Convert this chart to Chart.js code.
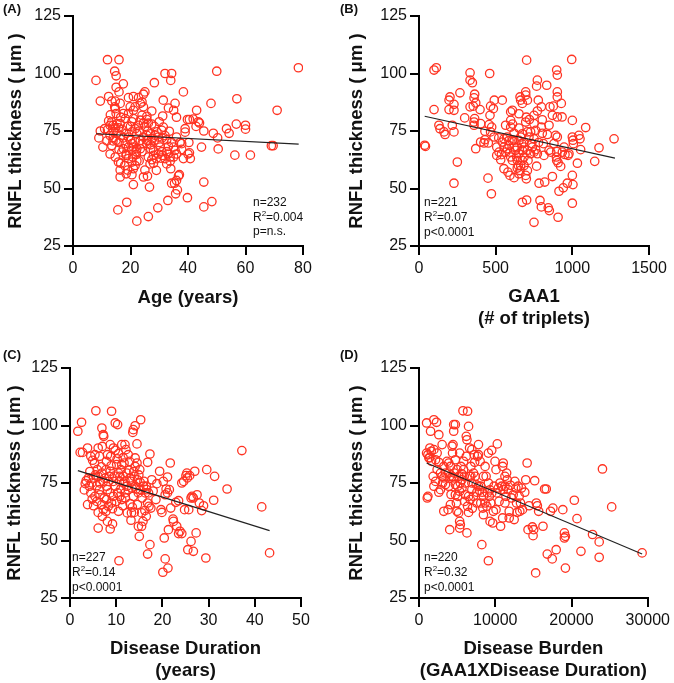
<!DOCTYPE html>
<html><head><meta charset="utf-8">
<script src="https://cdn.jsdelivr.net/npm/chart.js@4.4.1/dist/chart.umd.min.js"></script>
<style>
html,body{margin:0;padding:0;background:#fff;}
#wrap{position:relative;width:674px;height:683px;overflow:hidden;background:#fff;}
canvas{position:absolute;}
</style></head><body>
<div id="wrap">
<canvas id="cA" width="337" height="330" style="left:0;top:0"></canvas>
<canvas id="cB" width="337" height="330" style="left:337px;top:0"></canvas>
<canvas id="cC" width="337" height="353" style="left:0;top:330px"></canvas>
<canvas id="cD" width="337" height="353" style="left:337px;top:330px"></canvas>
</div>
<script>
// ---- Data: [x, RNFL thickness] ----
const agePoints = [[8,97],[9.5,88],[9.5,75],[9,72],[10.4,68],[12,106],[16,106],[14.5,101],[15,99],[15,94],[17.5,95.5],[16,92],[12.4,90],[13.5,88],[14.7,88],[14.5,85.5],[16.4,87],[19.3,89.5],[21,90],[22.8,89.5],[24.5,91],[25,92],[28.3,96],[32,100],[34.3,100],[34,97],[50,101],[78.4,102.5],[31.4,88.4],[35.5,87],[33.2,85],[35,84],[31.2,81.5],[36,81],[38.4,92],[48,87],[57,89],[71,84],[43,84],[40.5,80],[39.8,80],[43.6,79],[41.8,80.2],[42.8,77],[44,78.5],[39,76],[39,74.5],[45.5,75],[48.8,74],[50.3,72],[53.4,76],[54.3,74],[56.8,78],[60,77.5],[60,75.8],[50.5,67.2],[44.7,68],[40.5,65.5],[40,65],[40.8,63],[38.4,63],[56.3,64.5],[61.7,64.5],[69,68.6],[69.6,68.6],[40.3,70],[37.2,70],[35,68],[35.5,66.6],[33.8,63.7],[32,63],[32.6,60.7],[34,58.6],[29,57.9],[45.5,52.8],[34.3,52.3],[35.3,52.3],[36,53.5],[36.7,55.5],[37,56],[35.7,47.7],[36.3,49.4],[39.8,46],[33,44.8],[48.3,44.3],[45.5,42],[29.5,41.6],[26.2,37.8],[22.2,35.8],[18.7,44],[15.6,40.7],[24.5,55],[25.9,55.4],[26.6,50.6],[21,51.7],[16.4,55],[16.4,58],[16.6,61],[15.8,61.5],[18.5,56.4],[20.5,56],[21,58.6],[21.6,60],[20.5,61.5],[19.3,63],[18.5,64.4],[20.8,63.7],[22.2,62],[22,64.8],[22.2,67.3],[23.4,67.3],[24,69.5],[25.7,69.5],[27,67.3],[26.2,63.7],[27.4,62.5],[28,64.4],[29,63],[26.8,60.7],[28,66.6],[29.7,65],[30.3,68],[28.3,71],[29.7,72.4],[32,73],[32.6,71.2],[30.9,75.3],[31.4,76.7],[33.5,74.9],[34.3,70],[28.3,77],[27.4,78],[26.2,78.4],[25,77],[24.5,78.5],[25.7,80],[25.7,81.4],[27.4,83.7],[24.5,85.5],[23.4,87],[24,87.6],[21.6,85.5],[21,84],[19.9,85.5],[19.3,82.6],[17.5,82.6],[18.2,80.4],[16.6,81],[15,82.6],[14.7,84.7],[13.5,79],[12.4,79.4],[12.9,77.5],[14,77.5],[15.3,78.2],[16.4,78.2],[14.7,76.4],[15.8,76.4],[17,75.7],[14,74.7],[15.3,74],[16.6,73],[12.9,73],[13.9,70.7],[11.8,70.7],[13.5,68.7],[12.9,65],[14.7,63.7],[18.5,74],[19.3,72.4],[20.5,74.6],[21.6,76],[22.2,73.8],[22.8,77.5],[20.5,79],[21,80.4],[23.4,79.7],[24,81.8],[18.2,69.5],[19.3,68],[20.5,69.5],[21,68],[21.6,70.3],[20.5,66.6],[17.5,67.3],[17,65.8],[18.5,65],[23.4,70.9],[24.5,72.4],[25.7,73.1],[27,73.8],[27.4,71.6],[25.7,70.9],[28.6,73.1],[29.2,74.6],[30.9,66],[32.6,66],[33.2,68.3],[31.2,64.4],[30.6,63.2],[33.8,61.9],[35,63.7],[36,65],[37.8,67],[36,72.4],[37.8,69.5],[11,76],[13,82],[16,70],[17.5,72],[19,77],[20,71],[22,66],[23,75],[24,66],[26,75],[27,69],[28,61],[30,70],[31,72],[12,75.5],[14,72],[16,67],[18,60],[20,77],[23,62],[25,58],[30,79],[33,65],[19,58],[26,71],[15,71]];
const gaaPoints = [[37,68.8],[42,68.3],[98,101.5],[113,102.5],[98,84.3],[130,77.5],[137,76],[163,74.6],[170,73.5],[196,88.4],[202,89.8],[196,84.3],[228,86.6],[228,84],[217,77.5],[228,74.6],[228,52.3],[250,61.5],[267,91.6],[298,80.7],[333,100.3],[333,97.1],[348,96],[333,85.5],[354,85.8],[359,89.4],[363,91],[370,87.2],[363,80.4],[359,78.9],[359,77.5],[370,67.3],[398,84.3],[402,78.2],[402,70.2],[430,74.9],[430,71.2],[452,69.8],[424,69.8],[461,100],[467,85.8],[463,81.8],[457,77.8],[474,76.7],[467,74.6],[489,72.4],[485,84.7],[491,88.4],[450,54.5],[472,47.7],[543,88.4],[507,68],[522,65.8],[507,64.4],[537,64.7],[533,62.5],[554,58.6],[554,71.6],[576,72.4],[565,77.5],[543,70.2],[587,68.7],[593,65.8],[598,63.7],[598,76.7],[598,79.6],[598,83.3],[609,84],[580,57.1],[593,55.7],[620,54.7],[609,62.2],[620,74],[620,70.9],[630,66.6],[637,63.7],[641,62.2],[648,60],[641,58.9],[652,82.5],[659,89.8],[663,88.4],[674,87],[652,76.3],[663,72.4],[670,69.5],[674,66.6],[652,65.1],[685,70.2],[696,78.9],[696,92],[696,90.6],[702,105.8],[707,88.4],[700,81],[707,66.6],[711,62.2],[696,55.7],[700,54.2],[702,45],[674,44],[728,74.6],[735,69.5],[739,68],[750,71.6],[761,75.3],[750,78.2],[750,81.8],[772,83.7],[767,94.5],[772,97.1],[778,88.4],[761,66.9],[772,65.1],[767,59.7],[783,52.3],[789,44.8],[798,42],[750,35.3],[798,76.7],[804,79.9],[804,74],[811,69.5],[815,64.4],[820,52.8],[833,94.9],[837,73.5],[848,77.5],[848,66.6],[859,65.8],[843,41.6],[850,40.4],[854,85.5],[870,81.8],[870,55.2],[876,85.8],[880,69.5],[891,73.1],[896,63.7],[898,66.1],[902,72.4],[898,101.5],[902,99.3],[902,92],[902,89.8],[902,81.1],[898,62.2],[907,61.2],[913,48.8],[907,37.5],[928,87],[933,81.1],[924,59.6],[935,65.8],[946,68],[952,64.8],[941,50.3],[967,52.3],[972,64.4],[978,65.1],[996,106.1],[1000,79.6],[1000,72.4],[1004,71],[1007,69.5],[1000,55.7],[1004,51.7],[1000,43.6],[1033,61],[1043,73.1],[1050,71.6],[1054,66.9],[1087,76.5],[1146,61.8],[1174,67.7],[1272,71.6],[798,85.5],[554,68],[565,65.8],[576,67.3],[587,70.9],[609,70.9],[620,68],[641,68],[652,70.9],[674,73.8],[685,68],[707,74.6],[717,72.4],[728,65.1],[750,65.8],[685,63.7],[674,62.2],[663,60],[659,57.8],[685,60],[707,57.8],[652,56.4],[520,72],[610,78],[720,80],[780,70]];
const durationPoints = [[1.7,97.5],[2.5,101.4],[2.2,88.3],[2.7,88.3],[3.8,90.2],[3.3,74.7],[4,77.2],[3.8,65.6],[4.5,86.6],[4.9,84.9],[4.2,73.6],[4.5,70.7],[4.7,75],[5.1,77.2],[5.1,65.1],[5.4,87.3],[5.6,106.4],[6.1,90.2],[6.1,55.4],[5.8,73.8],[5.9,80.8],[6.1,77.9],[6.4,72.1],[6.5,69.9],[5.8,67],[6.1,62.2],[6.4,86.6],[6.9,98.9],[7.2,96],[7.3,95.3],[7,90.9],[6.9,79.3],[7.2,75.7],[7.4,68.5],[7.2,63.4],[7.8,80.8],[7.9,84.4],[8.1,87.3],[7.9,73.6],[8.1,72.1],[7.8,62.7],[8.3,64.9],[8.1,58.3],[8.7,55],[9,106.2],[8.7,91.7],[8.8,86.6],[8.5,77.9],[8.7,70.7],[9,66.3],[9.2,57.2],[9.4,90.2],[9.8,101.1],[10.3,100.4],[9.8,89.2],[10.1,83],[9.4,75.7],[9.8,73.6],[10.3,70.7],[10,67],[10.5,62.7],[10.6,41.2],[10.5,87.8],[10.8,77.9],[10.7,75.7],[11,80.8],[11.2,83],[11.2,91.7],[11,72.4],[11.2,67.8],[11.4,65.1],[11.7,83.7],[11.9,91.7],[12.1,89.5],[12.3,73.6],[11.9,70.7],[12.4,62],[12.6,87.3],[12.9,84.4],[13,77.2],[13.2,75.7],[13,66],[13.2,58.8],[13.3,62],[13.6,97],[13.7,98.2],[14.1,99.9],[14.1,85.9],[14.1,82.2],[13.9,77.9],[14.1,73.6],[14.3,72.4],[13.7,69.2],[13.9,62.2],[14.5,92],[14.5,83.7],[14.6,76.4],[14.8,70.7],[14.6,65.6],[14.8,56.2],[15,51.8],[15.2,75.3],[15.3,102.5],[15.5,62],[15.5,56.2],[15.8,58.3],[15.9,73.6],[16.3,70.7],[16.5,60.5],[16.6,72.1],[16.8,66.3],[16.8,84],[16.8,44.1],[17.3,87.6],[17.3,48.2],[17.1,64.9],[17.5,64.1],[17.7,76.4],[18.8,74.7],[18.6,67.8],[19.4,80.1],[19.7,63.4],[19.9,62.2],[20.1,36.2],[20.2,75.7],[20.4,51.1],[20.6,42],[20.6,69.9],[20.8,72.4],[21.1,77.6],[21.1,70.7],[21.2,38],[21.3,54.7],[21.7,83.7],[21.5,72.1],[21.8,64.1],[22.3,59.3],[22.4,58.3],[22.9,66.6],[23.1,56.2],[23.5,67.3],[23.5,53],[23.8,54],[24.2,53],[24.2,75],[24.6,75.7],[24.8,63.4],[25.1,78.2],[25.3,79.3],[25.4,77.2],[25.5,46],[25.7,63.4],[25.9,78.2],[26.2,68.5],[26.2,49.6],[26.4,69.2],[26.7,68.5],[26.7,45.3],[27,80.1],[27.3,53.3],[27.5,69.9],[28,66.3],[28.5,63],[28.9,65.1],[29.4,42.4],[29.6,80.8],[31.1,67.5],[31.3,77.9],[34,72.4],[37.2,89.1],[41.5,64.6],[43.2,44.6],[11.6,77.9],[11.9,75.7],[12.3,79.3],[10.5,79.3],[11.6,75],[12.6,72.1],[13.4,72.8],[15.2,72.1],[16,75.7],[16.5,73.6],[17,70.7],[8.3,75.7],[8.7,80.1],[5.4,69.2],[6.5,75],[9.4,69.2],[10.8,69.2],[7.9,67.8],[6.9,65.6],[3.5,76],[4.3,80],[5.5,78.5],[6.8,82],[7.5,77],[8.9,82.5],[9.6,78],[10.2,85.5],[11.5,86],[12.8,80.5],[13.8,80],[14.9,78.5],[15.6,68.5],[12,68.5],[9.2,63.8],[7,60.5],[4.8,68],[13.5,64.5],[15.1,80.8],[16.2,63],[3.1,72],[5.3,83.5],[18,71.5]];
const burdenPoints = [[997,101.1],[1170,69.2],[1084,68.5],[1170,87.3],[1430,90.2],[1517,97.5],[1604,88.8],[997,88],[1300,85.9],[1647,84.4],[1950,102.5],[2300,101.4],[1950,89.5],[2170,85.1],[2380,88],[2600,96],[3035,91.7],[2380,80.8],[1860,77.9],[2170,75.7],[1950,73.6],[2600,71],[2820,79.3],[3035,77.9],[3250,77.2],[3470,74.3],[3250,62.7],[3680,84.4],[3900,83.7],[3900,79.3],[4030,77.9],[3900,73.6],[3815,63.4],[4030,54.7],[4120,65.6],[4120,82.2],[4335,91],[4465,91.7],[4550,100.4],[4770,100.4],[4550,97.5],[4335,77.9],[4550,77.2],[4640,79.3],[4770,85.1],[4770,74.3],[4770,69.9],[4900,66.3],[4985,62.7],[5070,69.2],[5200,77.9],[5330,88],[5330,71.4],[5330,58.3],[5420,56.9],[5330,55.4],[5505,82.2],[5635,76.4],[5635,72.8],[5765,106.4],[5850,80.8],[5940,77.9],[6070,75],[6070,69.9],[6200,95.3],[6200,86.6],[6285,93.8],[6370,106.2],[6370,64.9],[6285,53.3],[6500,99.6],[6500,62.2],[6630,90.2],[6630,77.9],[6720,67.8],[6805,82.2],[6935,89.5],[6935,75],[6935,72.1],[7150,79.3],[7150,69.2],[7240,87.3],[7370,77.9],[7500,74.3],[7590,71],[7670,86.6],[7800,91.7],[7800,87.3],[7800,73.6],[7930,71.8],[8020,84.4],[8100,66.3],[8240,48.2],[8370,64.1],[8450,77.9],[8450,61.2],[8670,66.3],[8670,82.2],[8800,77.9],[8890,64.9],[8970,70.7],[9100,88],[9100,41.2],[9100,75],[9230,69.2],[9320,58.3],[9410,66.3],[9540,89.2],[9540,70.7],[9670,57.6],[9750,62.7],[9840,73.6],[9970,84.4],[10100,80.8],[10100,63.4],[10190,70.7],[10270,92],[10400,72.8],[10620,75],[10700,56.2],[10840,73.6],[10970,82.2],[10970,59.8],[11050,83.7],[11050,72.1],[11270,77.9],[11270,66.3],[11400,69.2],[11490,79.3],[11570,76.4],[11700,72.1],[11830,62.7],[11830,59.8],[12140,68.5],[12350,69.9],[12480,59.1],[12570,75.7],[12700,72.8],[12790,66.3],[12870,62.2],[13000,73.6],[13140,69.2],[13220,62.7],[13310,66.3],[13440,72.8],[13570,63.4],[13870,71],[14000,76.4],[14180,83.7],[14300,54.7],[14440,65.1],[14870,55.9],[14960,52.1],[15040,54.7],[15170,76],[15300,35.9],[15390,66.3],[15520,65.1],[15690,62.7],[16260,56.2],[16470,72.4],[16690,72.4],[16820,44.1],[17250,62.7],[17470,42],[17560,64.1],[17990,46],[18860,63.4],[19070,53.3],[19200,51.8],[19070,51.1],[19200,38],[20370,67.5],[20720,59.5],[21240,45.3],[22760,52.6],[23630,49.4],[23630,42.7],[24060,81.1],[25270,64.6],[29260,44.6],[2820,72.1],[3250,82.2],[3470,79.3],[4985,80.8],[5070,73.6],[5420,75],[5850,84.4],[6500,69.2],[7590,66.3],[8100,73.6],[8450,69.2],[11270,73.6],[1400,86],[2600,84],[3100,75],[4200,70],[4400,88],[5200,62],[5600,79],[6000,67],[6800,78],[7300,84],[8300,71],[9300,72],[10500,67],[12000,74],[7000,64]];

// regression line end points
const ageFit = [[8,73.8],[78.5,69.3]];
const gaaFit = [[37,81.4],[1278,63.2]];
const durationFit = [[1.7,80.4],[43.2,54.3]];
const burdenFit = [[1000,83.7],[29260,44.1]];

// axis ranges and ticks
const yTicks = [25, 50, 75, 100, 125];
const ageTicks = [0, 20, 40, 60, 80];
const gaaTicks = [0, 500, 1000, 1500];
const durationTicks = [0, 10, 20, 30, 40, 50];
const burdenTicks = [0, 10000, 20000, 30000];

// text
const yTitle = 'RNFL thickness ( \u03bcm )';
const statsA = ['n=232', '0.004', 'p=n.s.'];
const statsB = ['n=221', '0.07', 'p<0.0001'];
const statsC = ['n=227', '0.14', 'p<0.0001'];
const statsD = ['n=220', '0.32', 'p<0.0001'];

const FAM = '"Liberation Sans", Arial, Helvetica, sans-serif';
const RED = '#ff3322';

const textPlugin = {
  id: 'panelText',
  afterDraw(chart, args, o) {
    const ctx = chart.ctx, a = chart.chartArea;
    ctx.save();
    ctx.fillStyle = '#111';
    ctx.textBaseline = 'middle';
    ctx.textAlign = 'left';
    ctx.font = 'bold 13px ' + FAM;
    ctx.fillText(o.label, o.labelX, o.labelY);
    const x = a.left + o.annX;
    let y = a.bottom + o.annY;
    ctx.font = '12px ' + FAM;
    ctx.fillText(o.stats[0], x, y);
    y += o.gap;
    ctx.fillText('R', x, y);
    const w1 = ctx.measureText('R').width;
    ctx.font = '8px ' + FAM;
    ctx.fillText('2', x + w1, y - 4);
    const w2 = ctx.measureText('2').width;
    ctx.font = '12px ' + FAM;
    ctx.fillText('=' + o.stats[1], x + w1 + w2, y);
    y += o.gap;
    ctx.fillText(o.stats[2], x, y);
    ctx.restore();
  }
};

function toXY(arr) { return arr.map(p => ({x: p[0], y: p[1]})); }

function panel(id, pts, fit, xTicks, xTitle, lay) {
  const tickFont = {family: FAM, size: 16};
  const axisCommon = {
    grid: {display: true, drawOnChartArea: false, drawTicks: true, tickLength: 9, color: '#000', lineWidth: 2},
    border: {display: true, color: '#000', width: 2}
  };
  new Chart(document.getElementById(id), {
    type: 'scatter',
    data: {
      datasets: [
        {type: 'line', data: toXY(fit), borderColor: '#222', borderWidth: 1.2, pointRadius: 0, fill: false, order: 0},
        {data: toXY(pts), borderColor: RED, backgroundColor: 'rgba(0,0,0,0)', pointRadius: 4.2, pointBorderWidth: 1.3, borderWidth: 1.3, order: 1}
      ]
    },
    options: {
      responsive: false, animation: false, devicePixelRatio: 1,
      layout: {padding: {left: 0, top: lay.padTop, right: lay.padRight, bottom: 0}},
      plugins: {legend: {display: false}, tooltip: {enabled: false},
        panelText: {label: lay.label, labelX: 3, labelY: lay.labelY, stats: lay.stats, annX: lay.annX, annY: lay.annY, gap: lay.gap}},
      scales: {
        x: Object.assign({}, axisCommon, {
          type: 'linear', min: xTicks[0], max: xTicks[xTicks.length - 1],
          afterBuildTicks: s => { s.ticks = xTicks.map(v => ({value: v})); },
          ticks: {color: '#111', font: tickFont, padding: 4, maxRotation: 0, autoSkip: false, callback: v => String(v)},
          title: {display: true, text: xTitle, color: '#111', font: {family: FAM, size: 18.5, weight: 'bold', lineHeight: '22px'}, padding: {top: 0, bottom: lay.xTitlePad}},
          afterFit: s => { s.height = lay.xAxisH; }
        }),
        y: Object.assign({}, axisCommon, {
          type: 'linear', min: yTicks[0], max: yTicks[yTicks.length - 1],
          afterBuildTicks: s => { s.ticks = yTicks.map(v => ({value: v})); },
          ticks: {color: '#111', font: tickFont, padding: 3, callback: v => String(v)},
          title: {display: true, text: yTitle, color: '#111', font: {family: FAM, size: 18.5, weight: 'bold', lineHeight: '22px'}, padding: {top: lay.yTitlePad, bottom: 0}},
          afterFit: s => { s.width = lay.yAxisW; }
        })
      }
    },
    plugins: [textPlugin]
  });
}

panel('cA', agePoints, ageFit, ageTicks, 'Age (years)',
  {padTop: 16, padRight: 34, xAxisH: 84, yAxisW: 73, xTitlePad: 21, yTitlePad: 5, label: '(A)', labelY: 9, stats: statsA, annX: 180, annY: -43, gap: 14.5});
panel('cB', gaaPoints, gaaFit, gaaTicks, ['GAA1', '(# of triplets)'],
  {padTop: 16, padRight: 25, xAxisH: 84, yAxisW: 82, xTitlePad: 0, yTitlePad: 9, label: '(B)', labelY: 9, stats: statsB, annX: 5, annY: -43, gap: 15});
panel('cC', durationPoints, durationFit, durationTicks, ['Disease Duration', '(years)'],
  {padTop: 38, padRight: 36, xAxisH: 85, yAxisW: 70, xTitlePad: 1, yTitlePad: 4, label: '(C)', labelY: 25, stats: statsC, annX: 2, annY: -40, gap: 15});
panel('cD', burdenPoints, burdenFit, burdenTicks, ['Disease Burden', '(GAA1XDisease Duration)'],
  {padTop: 38, padRight: 25, xAxisH: 85, yAxisW: 82, xTitlePad: 1, yTitlePad: 9, label: '(D)', labelY: 25, stats: statsD, annX: 5, annY: -40, gap: 15});
</script>
</body></html>
